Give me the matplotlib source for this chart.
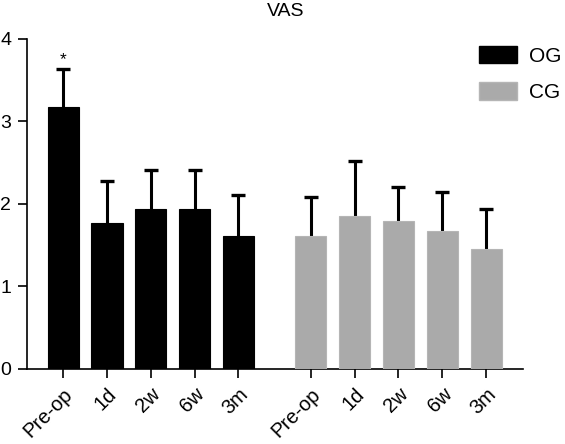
import matplotlib
matplotlib.use("Agg")
import matplotlib.pyplot as plt
import numpy as np
from matplotlib.patches import Patch

plt.rcParams['font.family'] = ['Liberation Sans', 'DejaVu Sans']

categories = ["Pre-op", "1d", "2w", "6w", "3m"]
og_mean = [3.17, 1.77, 1.93, 1.93, 1.61]
og_sd = [0.46, 0.51, 0.48, 0.48, 0.49]
cg_mean = [1.61, 1.85, 1.79, 1.67, 1.45]
cg_sd = [0.47, 0.67, 0.41, 0.47, 0.49]
series_names = ["OG", "CG"]
title = "VAS"

og_color = "#000000"
cg_color = "#AAAAAA"

fig = plt.figure(figsize=(5.65, 4.44), dpi=100)
ax = fig.add_axes([0.0483, 0.1696, 0.8779, 0.7432])

x_og = np.arange(len(categories))
x_cg = x_og + 5.65
width = 0.71

ax.bar(x_og, og_mean, width=width, color=og_color, edgecolor=og_color, linewidth=0.8, zorder=3)
ax.bar(x_cg, cg_mean, width=width, color=cg_color, edgecolor="#B5B5B5", linewidth=0.8, zorder=3)
for xs, m, sd in [(x_og, og_mean, og_sd), (x_cg, cg_mean, cg_sd)]:
    eb = ax.errorbar(xs, m, yerr=[np.zeros(len(sd)), sd], fmt='none',
                     ecolor='black', elinewidth=2.2, capsize=5.2, capthick=2.4, zorder=2)
    caps = eb[1]
    if len(caps) == 2:
        caps[0].set_visible(False)

ax.text(x_og[0], og_mean[0] + og_sd[0] + 0.02, "*", ha='center', va='bottom', fontsize=12.5)

ax.set_xlim(-0.82, 10.5)
ax.set_ylim(0, 4)
ax.set_yticks([0, 1, 2, 3, 4])
ax.set_xticks(np.concatenate([x_og, x_cg]))
ax.set_xticklabels(categories + categories, rotation=45, ha='right', va='top',
                   rotation_mode='anchor', fontsize=14.5)
ax.tick_params(axis='y', labelsize=14, length=6.5, width=1.2, pad=5)
ax.tick_params(axis='x', length=6.5, width=1.2, pad=5)
for s in ['top', 'right']:
    ax.spines[s].set_visible(False)
for s in ['left', 'bottom']:
    ax.spines[s].set_linewidth(1.2)

fig.text(285.5 / 565, 1 - 11 / 444, title, ha='center', va='center', fontsize=14)

handles = [Patch(facecolor=og_color, edgecolor=og_color),
           Patch(facecolor=cg_color, edgecolor="#B5B5B5")]
fig.legend(handles, series_names, loc='upper left', bbox_to_anchor=(479 / 565, 1 - 46 / 444),
           frameon=False, fontsize=15, handlelength=1.8, handleheight=0.9,
           handletextpad=0.6, labelspacing=0.8, borderpad=0, borderaxespad=0)

fig.savefig("out.png", dpi=100)
